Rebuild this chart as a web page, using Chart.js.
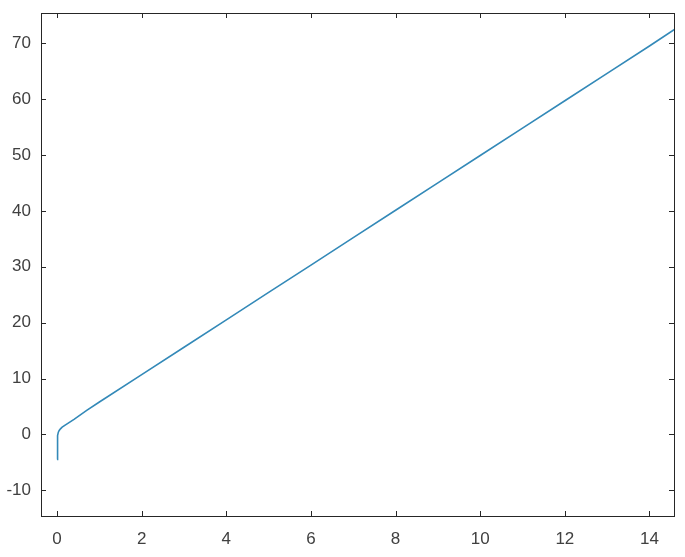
<!DOCTYPE html>
<html><head><meta charset="utf-8">
<script src="https://cdn.jsdelivr.net/npm/chart.js@4"></script>
<style>html,body{margin:0;padding:0;background:#fff;}#wrap{width:685px;height:557px;}</style>
</head><body><div id="wrap"><canvas id="c" width="685" height="557"></canvas></div>
<script>
const xValues = [0, 0.005, 0.01, 0.02, 0.03, 0.05, 0.08, 0.12, 0.2, 0.4, 0.7, 1, 2, 3, 4, 5, 6, 7, 8, 9, 10, 11, 12, 13, 14, 14.6];
const yValues = [-4.5, -3.0, -1.4, -0.2, 0.4, 0.7, 1.0, 1.3, 1.7, 2.7, 4.3, 5.8, 10.7, 15.6, 20.5, 25.4, 30.3, 35.2, 40.1, 45.0, 49.9, 54.8, 59.7, 64.6, 69.5, 72.5];
const xTicks = [0, 2, 4, 6, 8, 10, 12, 14];
const yTicks = [-10, 0, 10, 20, 30, 40, 50, 60, 70];

const boxPlugin = {
  id: 'box',
  afterDraw(chart) {
    const ctx = chart.ctx, a = chart.chartArea;
    const xs = chart.scales.x, ys = chart.scales.y;
    ctx.save();
    ctx.strokeStyle = '#262626';
    ctx.lineWidth = 1;
    ctx.strokeRect(Math.round(a.left) + 0.5, Math.round(a.top) + 0.5, Math.round(a.right - a.left), Math.round(a.bottom - a.top));
    const L = 5;
    ctx.beginPath();
    xTicks.forEach(v => {
      const px = Math.round(xs.getPixelForValue(v)) + 0.5;
      ctx.moveTo(px, a.bottom); ctx.lineTo(px, a.bottom - L);
      ctx.moveTo(px, a.top); ctx.lineTo(px, a.top + L);
    });
    yTicks.forEach(v => {
      const py = Math.round(ys.getPixelForValue(v)) + 0.5;
      ctx.moveTo(a.left, py); ctx.lineTo(a.left + L, py);
      ctx.moveTo(a.right, py); ctx.lineTo(a.right - L, py);
    });
    ctx.stroke();
    ctx.restore();
  }
};

new Chart(document.getElementById('c'), {
  type: 'line',
  data: {
    datasets: [{
      data: xValues.map((x, i) => ({x: x, y: yValues[i]})),
      borderColor: '#3389b8',
      borderWidth: 1.6,
      pointRadius: 0,
      tension: 0,
      fill: false
    }]
  },
  options: {
    responsive: false,
    animation: false,
    devicePixelRatio: 1,
    layout: {padding: {top: 13, right: 11, left: 0, bottom: 0}},
    plugins: {legend: {display: false}, tooltip: {enabled: false}},
    scales: {
      x: {
        type: 'linear', min: -0.38, max: 14.58,
        afterBuildTicks: s => { s.ticks = xTicks.map(v => ({value: v})); },
        afterFit: s => { s.height = 41; s.paddingLeft = 0; s.paddingRight = 0; },
        grid: {display: false, drawTicks: false},
        border: {display: false},
        ticks: {padding: 13, color: '#404040', font: {family: 'Liberation Sans, Arial, sans-serif', size: 17}, maxRotation: 0}
      },
      y: {
        type: 'linear', min: -14.6, max: 75.4,
        afterBuildTicks: s => { s.ticks = yTicks.map(v => ({value: v})); },
        afterFit: s => { s.width = 41; s.paddingTop = 0; s.paddingBottom = 0; },
        grid: {display: false, drawTicks: false},
        border: {display: false},
        ticks: {padding: 10, color: '#404040', font: {family: 'Liberation Sans, Arial, sans-serif', size: 17}}
      }
    }
  },
  plugins: [boxPlugin]
});
</script></body></html>
